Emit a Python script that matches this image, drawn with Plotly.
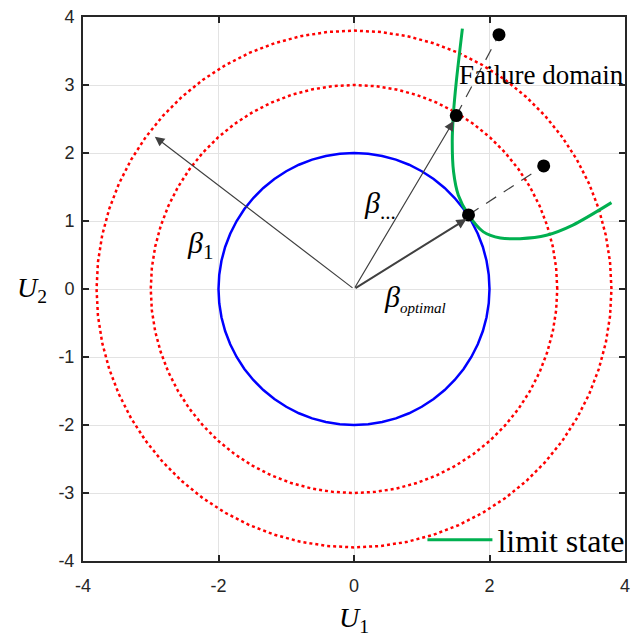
import numpy as np
import plotly.graph_objects as go

# ---- data ----
circle_radii_blue = [2.0]
circle_radii_red = [3.0, 3.8]
limit_u1 = [1.60, 1.51, 1.47, 1.45, 1.47, 1.54, 1.69, 1.91, 2.16, 2.45, 2.84, 3.23, 3.80]
limit_u2 = [3.83, 3.05, 2.61, 2.17, 1.72, 1.38, 1.09, 0.84, 0.75, 0.74, 0.79, 0.94, 1.27]
pts_u1 = [2.14, 1.51, 2.80, 1.69]
pts_u2 = [3.74, 2.55, 1.81, 1.09]
dash_from_u1 = [1.51, 1.69]
dash_from_u2 = [2.55, 1.09]
dash_to_u1 = [2.14, 2.80]
dash_to_u2 = [3.74, 1.81]
arrow_tip_u1 = [-2.94, 1.47, 1.66]
arrow_tip_u2 = [2.24, 2.47, 1.03]
arrow_width = [1.2, 1.2, 2.0]
x_ticks = [-4, -2, 0, 2, 4]
y_ticks = [-4, -3, -2, -1, 0, 1, 2, 3, 4]

SERIF = "Liberation Serif"
SANS = "Liberation Sans"

fig = go.Figure()

theta = np.linspace(0, 2 * np.pi, 61)
for r in circle_radii_red:
    fig.add_trace(go.Scatter(x=r * np.cos(theta), y=r * np.sin(theta), mode="lines",
                             line=dict(color="#ff0000", width=2.5, dash="dot"),
                             showlegend=False, hoverinfo="skip"))
for r in circle_radii_blue:
    fig.add_trace(go.Scatter(x=r * np.cos(theta), y=r * np.sin(theta), mode="lines",
                             line=dict(color="#0000ff", width=2.5),
                             showlegend=False, hoverinfo="skip"))

# dashed extensions
for a, b, c, d in zip(dash_from_u1, dash_from_u2, dash_to_u1, dash_to_u2):
    fig.add_trace(go.Scatter(x=[a, c], y=[b, d], mode="lines",
                             line=dict(color="#404040", width=1.2, dash="12px,9px"),
                             showlegend=False, hoverinfo="skip"))

fig.add_trace(go.Scatter(x=limit_u1, y=limit_u2, mode="lines", name="limit state",
                         line=dict(color="#00b050", width=3, shape="spline", smoothing=0.8),
                         showlegend=True))

fig.add_trace(go.Scatter(x=pts_u1, y=pts_u2, mode="markers",
                         marker=dict(color="black", size=13),
                         showlegend=False, hoverinfo="skip"))

# arrows from origin
for tx, ty, w in zip(arrow_tip_u1, arrow_tip_u2, arrow_width):
    fig.add_annotation(x=tx, y=ty, ax=0, ay=0, xref="x", yref="y", axref="x", ayref="y",
                       showarrow=True, arrowhead=2, arrowsize=1.6 if w < 1.5 else 1.0,
                       arrowwidth=w, arrowcolor="#404040", text="")

labels = [
    (-2.27, 0.65, "<i>β</i><sub>1</sub>"),
    (0.38, 1.24, "<i>β</i><sub>...</sub>"),
    (0.90, -0.13, "<i>β</i><sub><span style='font-size:15px'><i>optimal</i></span></sub>"),
]
for x, y, t in labels:
    fig.add_annotation(x=x, y=y, xref="x", yref="y", text=t, showarrow=False,
                       font=dict(family=SERIF, size=30, color="black"))

fig.add_annotation(x=1.52, y=3.15, xref="x", yref="y", text="Failure domain",
                   showarrow=False, xanchor="left",
                   font=dict(family=SERIF, size=27, color="black"))

fig.add_annotation(x=-0.094, y=0.5, xref="paper", yref="paper", text="<i>U</i><sub>2</sub>",
                   showarrow=False, xanchor="center", yanchor="middle",
                   font=dict(family=SERIF, size=28, color="black"))
fig.add_annotation(x=0.5, y=-0.108, xref="paper", yref="paper", text="<i>U</i><sub>1</sub>",
                   showarrow=False, xanchor="center", yanchor="middle",
                   font=dict(family=SERIF, size=28, color="black"))

axis_common = dict(showgrid=True, gridcolor="#e3e3e3", gridwidth=1, zeroline=False,
                   showline=True, linecolor="#262626", linewidth=2, mirror="ticks",
                   ticks="inside", ticklen=6, tickwidth=2, tickcolor="#262626",
                   automargin=False,
                   tickfont=dict(family=SANS, size=18, color="#262626"))

fig.update_layout(
    width=638, height=643,
    margin=dict(l=83, r=13, t=17, b=82, autoexpand=False),
    paper_bgcolor="white", plot_bgcolor="white",
    xaxis=dict(range=[-4, 4], tickvals=x_ticks, ticktext=[str(v) for v in x_ticks],
               ticklabelstandoff=7, **axis_common),
    yaxis=dict(range=[-4, 4], tickvals=y_ticks, ticktext=[str(v) for v in y_ticks],
               ticklabelstandoff=3, **axis_common),
    legend=dict(x=1.01, y=-0.012, xanchor="right", yanchor="bottom", bgcolor="rgba(0,0,0,0)",
                font=dict(family=SERIF, size=32, color="black"), itemwidth=65,
                tracegroupgap=0),
    showlegend=True,
)

fig.write_html("out.html", config={"displayModeBar": False},
               post_script="document.body.style.margin='0';")
